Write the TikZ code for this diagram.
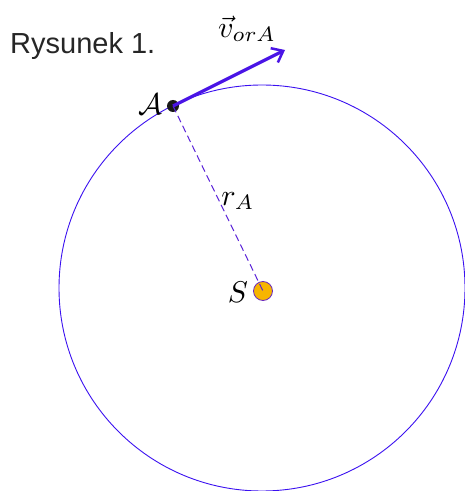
\documentclass[tikz,border=0pt]{standalone}
\usepackage{fontspec}
\setsansfont{Liberation Sans}
\usetikzlibrary{arrows.meta}
\definecolor{orb}{HTML}{3A10F0}
\definecolor{vec}{HTML}{4A14E6}
\definecolor{dsh}{HTML}{5A22D8}
\definecolor{sunf}{HTML}{F7B500}
\definecolor{sund}{HTML}{6A2AC0}
\newcommand{\lblmath}[1]{\scalebox{3}{$#1$}}
\tikzset{
  lbl/.style={inner sep=0pt},
  orbit/.style={draw=orb, line width=0.9pt},
}
\begin{document}
\begin{tikzpicture}[x=1pt,y=1pt]
\useasboundingbox (0,0) rectangle (465,491);
\begin{scope}
\clip (0,0) rectangle (465,491);
\draw[orbit] (262,203) circle[radius=203];
\end{scope}
\coordinate (cS) at (263,200);
\node[circle, fill=sunf, draw=sund, line width=0.8pt, minimum size=19pt, inner sep=0pt] (sun) at (cS) {};
\node[circle, fill=black!90, minimum size=12pt, inner sep=0pt] (A) at (173,385) {};
\coordinate (tip) at (285,441);
\draw[dsh, dashed, line width=1pt, dash pattern=on 7pt off 4pt] (A.center) -- (cS);
\draw[vec, line width=3.2pt, -{Straight Barb[length=10pt,width=16pt,line width=2.5pt]}] (A.center) -- (tip);
\node[lbl, anchor=east] (Alab) at (163,387) {\lblmath{\mathcal{A}}};
\node[lbl] (Slab) at (238,199) {\lblmath{S}};
\node[lbl] (rlab) at (238,290) {\lblmath{r_A}};
\node[lbl] (vlab) at (247,462) {\lblmath{\vec{v}_{orA}}};
\node[inner sep=0pt, anchor=west, font=\sffamily\fontsize{29}{33}\selectfont, text=black!85] (title) at (10,445) {Rysunek 1.};
\end{tikzpicture}
\end{document}
